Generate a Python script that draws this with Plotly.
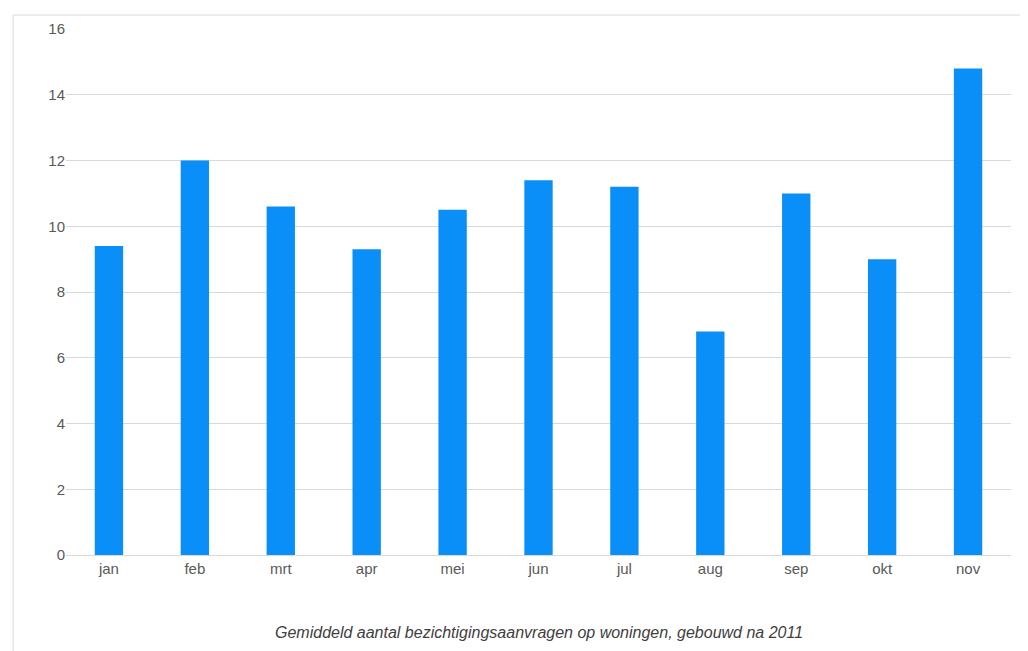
import plotly.graph_objects as go

months = ["jan","feb","mrt","apr","mei","jun","jul","aug","sep","okt","nov"]
values = [9.4,12.0,10.6,9.3,10.5,11.4,11.2,6.8,11.0,9.0,14.8]
yticks = [0,2,4,6,8,10,12,14,16]

fig = go.Figure(go.Bar(x=months, y=values, marker_color="#0A8EF8", marker_line_width=0))
fig.update_layout(
    width=1028, height=651, margin=dict(l=58, r=25, t=19, b=104),
    plot_bgcolor="white", paper_bgcolor="white", bargap=0.67, showlegend=False,
    font=dict(family="Liberation Sans, Arial", size=15, color="#595959"),
)
fig.update_yaxes(range=[0,16], tickvals=yticks, gridcolor="#D9D9D9", zeroline=False, showline=False, ticklen=0)
fig.update_xaxes(showline=True, linecolor="#D9D9D9", ticks="", tickfont=dict(size=15))
fig.add_annotation(text="<i>Gemiddeld aantal bezichtigingsaanvragen op woningen, gebouwd na 2011</i>",
                   xref="paper", yref="paper", x=0.5, y=-0.148, showarrow=False,
                   font=dict(size=16, color="#404040"), yanchor="middle")
fig.add_shape(type="rect", xref="paper", yref="paper", x0=-0.056, x1=1.018, y0=-0.186, y1=1.0265,
              line=dict(color="#D9D9D9", width=1))
fig.write_html("out.html")
